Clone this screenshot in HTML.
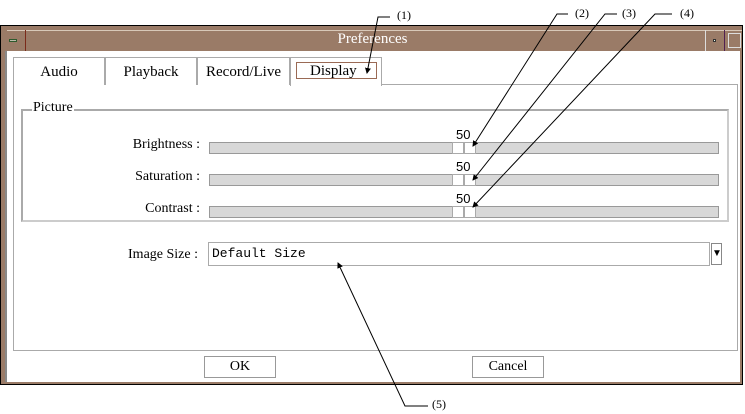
<!DOCTYPE html>
<html><head><style>
body{margin:0;width:745px;height:414px;background:#fff;position:relative;overflow:hidden;font-family:"Liberation Serif",serif;}
div{position:absolute;box-sizing:border-box;}
.t{font-size:15px;color:#000;white-space:nowrap;}
.tab{top:57px;height:28px;border:1px solid #aaa;border-bottom:none;background:#fff;text-align:center;line-height:28px;font-size:15px;}
.sl{left:209px;width:510px;height:12px;background:#d8d8d8;border:1px solid #999;}
.th{width:12px;height:12px;background:#fff;border:1px solid #aaa;}
.lab{width:200px;left:0;text-align:right;font-size:14px;}
.btn{height:22px;width:72px;border:1px solid #999;background:#fff;text-align:center;line-height:20px;font-size:14px;}
</style></head><body>
<div style="left:0;top:25px;width:743px;height:360px;border:1px solid #000;background:#9a7b67;"></div>
<div style="left:7px;top:30px;width:735px;height:21px;background:#9a7b67;border-top:1px solid #d8c8b8;"></div>
<div style="left:9px;top:39px;width:8px;height:3px;border:1px solid #2d5a2d;background:#bba;"></div>
<div style="left:25px;top:30px;width:1px;height:21px;background:#7a2a1a;"></div>
<div class="t" style="left:0;width:745px;top:31px;text-align:center;color:#fff;font-size:15px;">Preferences</div>
<div style="left:705px;top:30px;width:1px;height:21px;background:#ddd;"></div>
<div style="left:713px;top:39px;width:3px;height:3px;background:#efe;border:1px solid #333;"></div>
<div style="left:724px;top:30px;width:1px;height:21px;background:#502050;"></div>
<div style="left:728px;top:33px;width:13px;height:15px;border:1px solid #ddd;"></div>
<div style="left:5px;top:51px;width:735px;height:331px;background:#fff;border-left:2px solid #888;"></div>
<div style="left:13px;top:84px;width:725px;height:267px;border:1px solid #aaa;background:#fff;"></div>
<div class="tab" style="left:13px;width:92px;">Audio</div>
<div class="tab" style="left:105px;width:92px;">Playback</div>
<div class="tab" style="left:197px;width:93px;">Record/Live</div>
<div class="tab" style="left:290px;width:92px;height:29px;"></div>
<div style="left:296px;top:62px;width:81px;height:17px;border:1px solid #9a6a55;"></div>
<div class="t" style="left:310px;top:63px;">Display</div>
<div style="left:21px;top:109px;width:708px;height:113px;border:2px solid #aaa;border-right-color:#ccc;border-bottom-color:#ccc;"></div>
<div class="t" style="left:32px;top:100px;background:#fff;padding:0 1px;font-size:14px;">Picture</div>
<div class="t lab" style="top:137px;">Brightness :</div>
<div class="t lab" style="top:169px;">Saturation :</div>
<div class="t lab" style="top:201px;">Contrast :</div>
<div class="sl" style="top:142px;"></div><div class="th" style="left:452px;top:142px;"></div><div class="th" style="left:464px;top:142px;"></div>
<div class="sl" style="top:174px;"></div><div class="th" style="left:452px;top:174px;"></div><div class="th" style="left:464px;top:174px;"></div>
<div class="sl" style="top:206px;"></div><div class="th" style="left:452px;top:206px;"></div><div class="th" style="left:464px;top:206px;"></div>
<div class="t" style="left:456px;top:127px;font-family:'Liberation Sans',sans-serif;font-size:13px;">50</div>
<div class="t" style="left:456px;top:159px;font-family:'Liberation Sans',sans-serif;font-size:13px;">50</div>
<div class="t" style="left:456px;top:191px;font-family:'Liberation Sans',sans-serif;font-size:13px;">50</div>
<div class="t lab" style="top:247px;width:198px;">Image Size :</div>
<div style="left:208px;top:242px;width:502px;height:24px;border:1px solid #aaa;"></div>
<div class="t" style="left:212px;top:246px;font-family:'Liberation Mono',monospace;font-size:13px;">Default Size</div>
<div style="left:711px;top:243px;width:11px;height:22px;border:1px solid #888;font-size:10px;text-align:center;line-height:20px;">&#9660;</div>
<div class="btn" style="left:204px;top:356px;">OK</div>
<div class="btn" style="left:472px;top:356px;">Cancel</div>
<svg width="745" height="414" style="position:absolute;left:0;top:0" xmlns="http://www.w3.org/2000/svg">
<defs><marker id="a" markerWidth="6" markerHeight="6" refX="5" refY="3" orient="auto"><path d="M0,0L6,3L0,6z" fill="#000"/></marker></defs>
<g stroke="#000" stroke-width="1" fill="none">
<polyline points="390,17 378,17 367,73" marker-end="url(#a)"/>
<polyline points="568,14 557,14 473,146" marker-end="url(#a)"/>
<polyline points="617,14 605,14 473,180" marker-end="url(#a)"/>
<polyline points="672,14 655,14 473,207" marker-end="url(#a)"/>
<polyline points="428,406 405,406 338,263" marker-end="url(#a)"/>
</g>
<g font-family="Liberation Serif" font-size="12" fill="#000">
<text x="397" y="19">(1)</text><text x="575" y="17">(2)</text><text x="622" y="17">(3)</text><text x="680" y="17">(4)</text><text x="432" y="408">(5)</text>
</g></svg>
</body></html>
